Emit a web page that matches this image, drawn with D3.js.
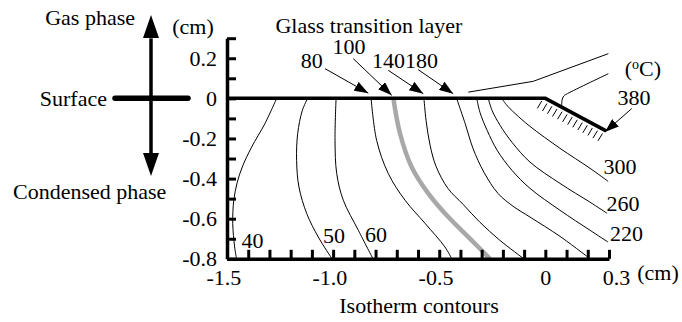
<!DOCTYPE html>
<html><head><meta charset="utf-8">
<script src="https://cdn.jsdelivr.net/npm/d3@7"></script>
<style>
html,body{margin:0;padding:0;background:#fff;}
svg{display:block;}
svg text{font-family:"Liberation Serif","Times New Roman",serif;}
</style></head>
<body><svg id="c" width="682" height="322"></svg>
<script>
// ---------- data ----------
const xTickValues = [-1.5,-1.4,-1.3,-1.2,-1.1,-1.0,-0.9,-0.8,-0.7,-0.6,-0.5,-0.4,-0.3,-0.2,-0.1,0,0.1,0.2,0.3];
const xLabelValues = [-1.5,-1.0,-0.5,0,0.3];
const xLabelTexts = ["-1.5","-1.0","-0.5","0","0.3"];
const yTickValues = [-0.8,-0.7,-0.6,-0.5,-0.4,-0.3,-0.2,-0.1,0,0.1,0.2,0.3];
const yLabelValues = [0.2,0,-0.2,-0.4,-0.6,-0.8];
const yLabelTexts = ["0.2","0","-0.2","-0.4","-0.6","-0.8"];

// isotherm contours [x (cm), depth (cm)]
const contour40 = [[-1.266,0],[-1.321,-0.125],[-1.384,-0.243],[-1.428,-0.342],[-1.452,-0.420],[-1.468,-0.508],[-1.473,-0.623],[-1.464,-0.741],[-1.455,-0.80]];
const contour50 = [[-1.120,0],[-1.145,-0.060],[-1.167,-0.176],[-1.172,-0.309],[-1.161,-0.442],[-1.124,-0.575],[-1.070,-0.691],[-1.005,-0.80]];
const contour60 = [[-0.986,0],[-0.991,-0.209],[-0.983,-0.375],[-0.952,-0.508],[-0.881,-0.658],[-0.812,-0.80]];
const contour80 = [[-0.821,0],[-0.795,-0.209],[-0.740,-0.375],[-0.661,-0.508],[-0.567,-0.623],[-0.473,-0.741],[-0.441,-0.80]];
const contour100 = [[-0.716,0],[-0.685,-0.174],[-0.630,-0.342],[-0.551,-0.475],[-0.457,-0.592],[-0.347,-0.708],[-0.261,-0.80]];
const contour140 = [[-0.572,0],[-0.562,-0.110],[-0.543,-0.234],[-0.515,-0.339],[-0.459,-0.449],[-0.388,-0.528],[-0.308,-0.618],[-0.214,-0.708],[-0.101,-0.80]];
const contour180 = [[-0.418,0],[-0.378,-0.125],[-0.341,-0.249],[-0.289,-0.369],[-0.223,-0.474],[-0.152,-0.538],[-0.072,-0.592],[0.069,-0.688],[0.211,-0.80]];
const contour220 = [[-0.323,0],[-0.308,-0.070],[-0.274,-0.160],[-0.227,-0.259],[-0.157,-0.359],[-0.072,-0.449],[0.069,-0.558],[0.211,-0.658],[0.295,-0.716]];
const contour260 = [[-0.269,0],[-0.251,-0.060],[-0.213,-0.135],[-0.157,-0.219],[-0.072,-0.318],[0.069,-0.424],[0.211,-0.518],[0.291,-0.573]];
const contour300 = [[-0.205,0],[-0.185,-0.030],[-0.143,-0.075],[-0.072,-0.140],[0.069,-0.249],[0.211,-0.349],[0.296,-0.414]];

// surface (flat part and burning slope)
const surfaceLine = [[-1.5,0],[0,0],[0.286,-0.162]];
const slopeLine = [[0,0],[0.286,-0.162]];
const hatchCount = 13;
// extra guide lines above surface
const guideLine1 = [[-0.363,0.031],[-0.057,0.085],[0.297,0.223]];
const guideLine2 = [[0.077,-0.040],[0.079,-0.008],[0.087,0.012],[0.105,0.024],[0.297,0.123]];

// annotation arrows [from, to]
const arrows = [
  [[-1.038,0.148],[-0.834,0.026]],
  [[-0.905,0.198],[-0.724,0.015]],
  [[-0.740,0.140],[-0.575,0.023]],
  [[-0.599,0.143],[-0.434,0.023]],
  [[0.407,-0.051],[0.281,-0.168]]
];
// labels: text, x (cm), y (cm)
const labelTexts = ["Glass transition layer","80","100","140180","380","300","260","220","40","50","60"];
const labelX = [-0.831,-1.101,-0.925,-0.661,0.418,0.352,0.366,0.383,-1.380,-0.996,-0.798];
const labelY = [0.324,0.150,0.223,0.150,-0.035,-0.379,-0.563,-0.713,-0.748,-0.723,-0.715];

// ---------- chart ----------
const svg = d3.select("#c");
const x = d3.scaleLinear().domain([-1.5,0.3]).range([227,609]);
const y = d3.scaleLinear().domain([-0.8,0.3]).range([258.8,38.2]);
const FS = 22;
const FF = "'Liberation Serif','Times New Roman',serif";

const line = d3.line().x(d=>x(d[0])).y(d=>y(d[1]));
const curve = d3.line().x(d=>x(d[0])).y(d=>y(d[1])).curve(d3.curveCatmullRom.alpha(0.5));

// markers
const defs = svg.append("defs");
defs.append("marker").attr("id","ah").attr("markerUnits","userSpaceOnUse")
  .attr("viewBox","0 0 14 10").attr("refX",14).attr("refY",5)
  .attr("markerWidth",14).attr("markerHeight",10).attr("orient","auto")
  .append("path").attr("d","M0,0 L14,5 L0,10 Z").attr("fill","#000");

// contours
const contours = [contour40,contour50,contour60,contour80,contour140,contour180,contour220,contour260,contour300];
svg.append("g").selectAll("path").data(contours).join("path")
  .attr("d",curve).attr("fill","none").attr("stroke","#000").attr("stroke-width",1);
svg.append("path").attr("d",curve(contour100)).attr("fill","none")
  .attr("stroke","#a8a8a8").attr("stroke-width",4.5);

// axes
const xAxis = d3.axisBottom(x).tickValues(xTickValues).tickSizeInner(-9).tickSizeOuter(0).tickPadding(11)
  .tickFormat(d=>{const i=xLabelValues.findIndex(v=>Math.abs(v-d)<1e-9);return i<0?"":xLabelTexts[i];});
const gx = svg.append("g").attr("transform",`translate(0,${y(-0.8)})`).call(xAxis);
const yAxis = d3.axisLeft(y).tickValues(yTickValues).tickSizeInner(-9).tickSizeOuter(0).tickPadding(10)
  .tickFormat(d=>{const i=yLabelValues.findIndex(v=>Math.abs(v-d)<1e-9);return i<0?"":yLabelTexts[i];});
const gy = svg.append("g").attr("transform",`translate(${x(-1.5)},0)`).call(yAxis);
[gx,gy].forEach(g=>{
  g.attr("font-family",null).attr("font-size",null);
  g.select(".domain").attr("stroke","#000").attr("stroke-width",3.5);
  g.selectAll(".tick line").attr("stroke","#000").attr("stroke-width",3);
  g.selectAll(".tick text").attr("fill","#000");
});
gx.selectAll(".tick text").attr("dx",d=> d<0 ? -3.7 : (d>0.2 ? 7 : 0));

// surface
svg.append("path").attr("d",line(surfaceLine)).attr("fill","none").attr("stroke","#000")
  .attr("stroke-width",3.5).attr("stroke-linejoin","miter");
// hatching under the slope
const hatchT = d3.range(hatchCount).map(i=>i/(hatchCount-1));
const p0 = slopeLine[0], p1 = slopeLine[1];
svg.append("g").selectAll("line").data(hatchT).join("line")
  .attr("x1",t=>x(p0[0]+(p1[0]-p0[0])*t)-3.5)
  .attr("y1",t=>y(p0[1]+(p1[1]-p0[1])*t)+2.5)
  .attr("x2",t=>x(p0[0]+(p1[0]-p0[0])*t)-8)
  .attr("y2",t=>y(p0[1]+(p1[1]-p0[1])*t)+10)
  .attr("stroke","#000").attr("stroke-width",1);
svg.append("path").attr("d",line(guideLine1)).attr("fill","none").attr("stroke","#000").attr("stroke-width",1);
svg.append("path").attr("d",curve(guideLine2)).attr("fill","none").attr("stroke","#000").attr("stroke-width",1);

// arrows
svg.append("g").selectAll("line").data(arrows).join("line")
  .attr("x1",d=>x(d[0][0])).attr("y1",d=>y(d[0][1]))
  .attr("x2",d=>x(d[1][0])).attr("y2",d=>y(d[1][1]))
  .attr("stroke","#000").attr("stroke-width",1).attr("marker-end","url(#ah)");

// labels
svg.append("g").selectAll("text").data(labelTexts).join("text")
  .attr("x",(d,i)=>x(labelX[i])).attr("y",(d,i)=>y(labelY[i]))
  .attr("text-anchor","middle").text(d=>d);
// (oC)
const tc = svg.append("text").attr("x",x(0.460)).attr("y",y(0.110)).attr("text-anchor","middle");
tc.append("tspan").text("(");
tc.append("tspan").attr("dy",-7).attr("font-size",14).text("o");
tc.append("tspan").attr("dy",7).text("C)");

// axis unit labels
svg.append("text").attr("x",193).attr("y",y(0.3)-4).attr("text-anchor","middle").text("(cm)");
svg.append("text").attr("x",658).attr("y",y(-0.8)+21).attr("text-anchor","middle").text("(cm)");
svg.append("text").attr("x",419).attr("y",313).attr("text-anchor","middle").text("Isotherm contours");

// left schematic
const sy = y(0), ax = 151;
svg.append("line").attr("x1",115).attr("x2",188).attr("y1",sy).attr("y2",sy)
  .attr("stroke","#000").attr("stroke-width",5.5).attr("stroke-linecap","round");
svg.append("line").attr("x1",ax).attr("x2",ax).attr("y1",sy-60).attr("y2",sy+60)
  .attr("stroke","#000").attr("stroke-width",3.5);
svg.append("path").attr("d",`M${ax},15 L${ax+8},38 L${ax-8},38 Z`).attr("fill","#000");
svg.append("path").attr("d",`M${ax},176 L${ax+8},153 L${ax-8},153 Z`).attr("fill","#000");
svg.append("text").attr("x",135).attr("y",25).attr("text-anchor","end").text("Gas phase");
svg.append("text").attr("x",107).attr("y",sy+8).attr("text-anchor","end").text("Surface");
svg.append("text").attr("x",13).attr("y",199).attr("text-anchor","start").text("Condensed phase");

// typography for all text
svg.selectAll("text").attr("font-family",FF).style("font-family",FF).attr("font-size",null).style("font-size",FS+"px").attr("fill","#000");
tc.selectAll("tspan").filter(function(){return d3.select(this).text()==="o";}).style("font-size","14px");
</script></body></html>
